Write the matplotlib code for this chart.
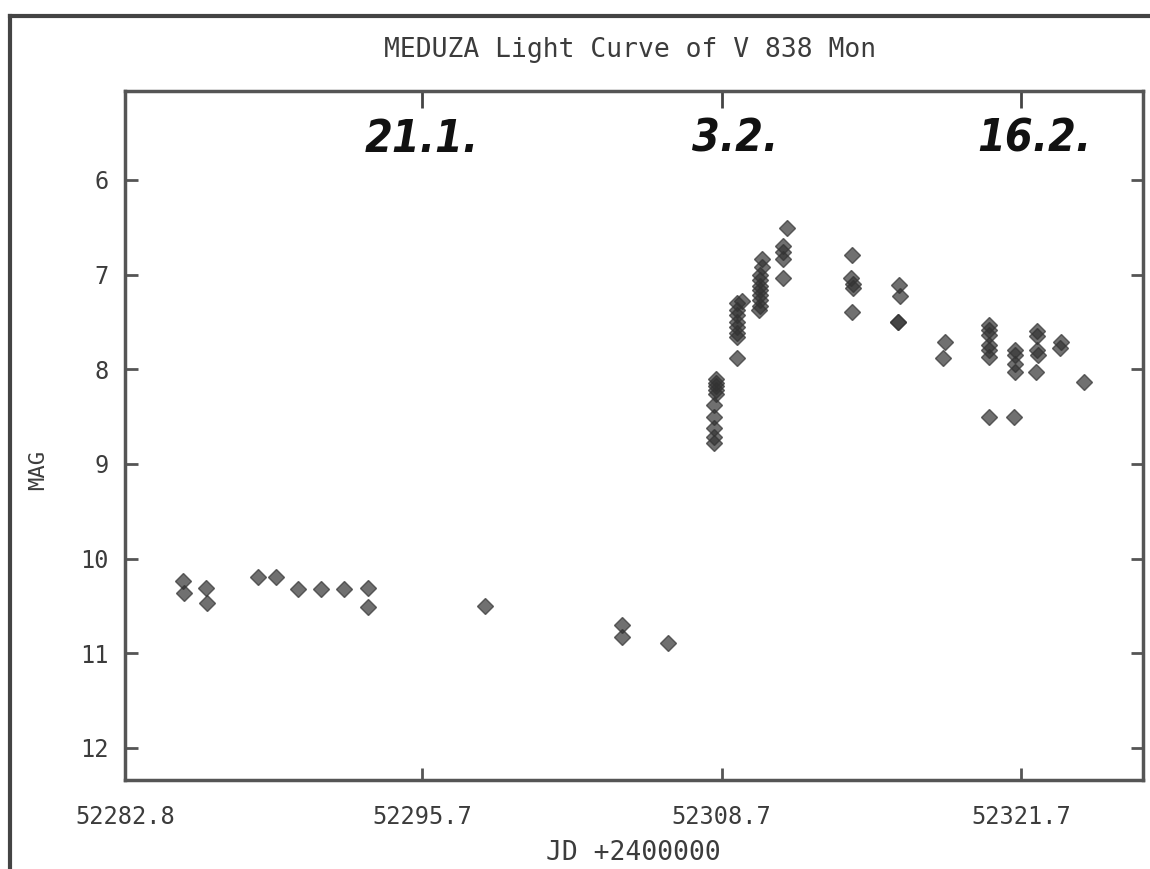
import matplotlib
matplotlib.use("Agg")
import matplotlib.pyplot as plt
from matplotlib.lines import Line2D

jd = [
    52285.32, 52285.38,
    52286.30, 52286.35,
    52288.57, 52289.35,
    52290.30, 52291.30, 52292.30,
    52293.34, 52293.34,
    52298.42,
    52304.36, 52304.36,
    52306.36,
    52308.45, 52308.45, 52308.45, 52308.45, 52308.45,
    52308.38, 52308.38, 52308.38, 52308.38, 52308.38,
    52309.60, 52309.39, 52309.39, 52309.39, 52309.39,
    52309.39, 52309.39, 52309.39, 52309.39,
    52310.45, 52310.45, 52310.39, 52310.39, 52310.39,
    52310.39, 52310.39, 52310.39, 52310.39, 52310.33,
    52311.56, 52311.39, 52311.39, 52311.39, 52311.39,
    52314.38, 52314.33, 52314.42, 52314.42, 52314.38,
    52316.42, 52316.45, 52316.38, 52316.38,
    52318.42, 52318.30,
    52320.33, 52320.33, 52320.33, 52320.33, 52320.33, 52320.33, 52320.33,
    52321.45, 52321.45, 52321.45, 52321.45, 52321.40,
    52322.41, 52322.41, 52322.41, 52322.45, 52322.35,
    52323.45, 52323.38,
    52324.45,
]
mag = [
    10.24, 10.36,
    10.31, 10.47,
    10.19, 10.19,
    10.32, 10.32, 10.32,
    10.31, 10.51,
    10.50,
    10.70, 10.83,
    10.89,
    8.10, 8.14, 8.18, 8.22, 8.26,
    8.38, 8.50, 8.62, 8.72, 8.78,
    7.28, 7.30, 7.37, 7.43, 7.50,
    7.55, 7.62, 7.66, 7.88,
    6.83, 6.92, 7.00, 7.06, 7.12,
    7.16, 7.22, 7.27, 7.33, 7.37,
    6.51, 6.70, 6.76, 6.83, 7.04,
    6.79, 7.04, 7.10, 7.14, 7.39,
    7.11, 7.23, 7.50, 7.50,
    7.71, 7.88,
    7.53, 7.58, 7.64, 7.74, 7.80, 7.87, 8.50,
    7.80, 7.85, 7.94, 8.03, 8.50,
    7.60, 7.65, 7.80, 7.85, 8.03,
    7.71, 7.78,
    8.13,
]

x_ticks = [52282.8, 52295.7, 52308.7, 52321.7]
x_tick_labels = ["52282.8", "52295.7", "52308.7", "52321.7"]
y_ticks = [6, 7, 8, 9, 10, 11, 12]
date_ticks = [52295.7, 52308.7, 52321.7]
date_labels = ["21.1.", "3.2.", "16.2."]

INK = "#3c3c3c"
MONO = "DejaVu Sans Mono"

fig = plt.figure(figsize=(11.5, 8.69), dpi=100)
fig.patch.set_facecolor("white")
ax = fig.add_axes([125 / 1150, 1 - 780 / 869, (1143 - 125) / 1150, (780 - 91) / 869])

ax.plot(jd, mag, linestyle="none", marker="D", markersize=8,
        markerfacecolor="#333333", markeredgecolor="#333333", alpha=0.7)

ax.set_xlim(52282.8, 52327.0)
ax.set_ylim(12.34, 5.06)

ax.set_xticks(x_ticks)
ax.set_xticklabels(x_tick_labels)
ax.set_yticks(y_ticks)
ax.tick_params(axis="both", direction="in", length=9, width=2, color="#555555",
               labelsize=17, labelcolor=INK, right=True)
ax.tick_params(axis="x", pad=18)
ax.tick_params(axis="y", pad=12)
for lbl in ax.get_xticklabels() + ax.get_yticklabels():
    lbl.set_family(MONO)
# left-most x tick sits on the spine, drawn without a mark
ax.xaxis.get_major_ticks()[0].tick1line.set_visible(False)

for side in ["left", "right", "top", "bottom"]:
    ax.spines[side].set_linewidth(2.5)
    ax.spines[side].set_color("#555555")

top = ax.secondary_xaxis("top")
top.set_xticks(date_ticks)
top.set_xticklabels([])
top.tick_params(direction="in", length=12, width=2, color="#444444")
top.spines["top"].set_visible(False)

# handwritten date marks under the top axis
for d, s, dx in zip(date_ticks, date_labels, [0.0, 0.6, 0.6]):
    ax.text(d + dx, 0.93, s, transform=ax.get_xaxis_transform(),
            ha="center", va="center", fontsize=32, fontweight="bold",
            fontstretch="condensed", fontstyle="italic", color="#111111",
            family="DejaVu Sans")

fig.text(630 / 1150, 1 - 50 / 869, "MEDUZA Light Curve of V 838 Mon",
         ha="center", va="center", fontsize=19, color=INK, family=MONO)
fig.text(633 / 1150, 1 - 853 / 869, "JD +2400000",
         ha="center", va="center", fontsize=19, color=INK, family=MONO)
fig.text(38 / 1150, 1 - 470 / 869, "MAG", rotation=90,
         ha="center", va="center", fontsize=16, color=INK, family=MONO)

# frame of the scanned page
fig.add_artist(Line2D([10 / 1150, 1.0], [1 - 16 / 869, 1 - 16 / 869],
                      transform=fig.transFigure, color="#444444", linewidth=3))
fig.add_artist(Line2D([10 / 1150, 10 / 1150], [0.0, 1 - 16 / 869],
                      transform=fig.transFigure, color="#444444", linewidth=3))

fig.savefig("out.png", dpi=100)
